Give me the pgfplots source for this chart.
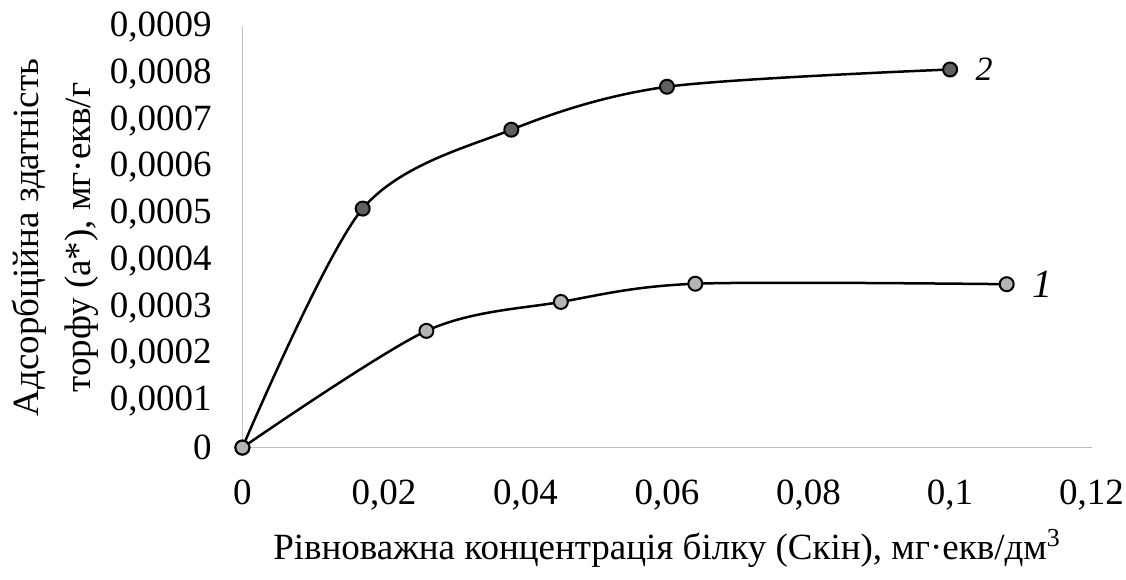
\documentclass[border=0pt]{standalone}
\usepackage{pgfplots}
\pgfplotsset{compat=1.18}
\usepackage{fontspec}
\setmainfont{Liberation Serif}

\definecolor{axisgray}{HTML}{BFBFBF}
\definecolor{lightmark}{HTML}{B4B4B4}
\definecolor{darkmark}{HTML}{606060}

\begin{document}
\fontsize{18.5}{26}\selectfont
\begin{tikzpicture}
\begin{axis}[
    scale only axis,
    width=424.5pt, height=210pt,
    xmin=0, xmax=0.12,
    ymin=0, ymax=0.0009,
    axis lines*=left,
    axis line style={axisgray, line width=0.8pt},
    major tick length=0pt,
    xtick={0,0.02,0.04,0.06,0.08,0.1,0.12},
    ytick={0,0.0001,0.0002,0.0003,0.0004,0.0005,0.0006,0.0007,0.0008,0.0009},
    scaled x ticks=false, scaled y ticks=false,
    /pgf/number format/assume math mode=true,
    /pgf/number format/use comma,
    /pgf/number format/fixed,
    /pgf/number format/precision=4,
    tick label style={font=\fontsize{18.5}{22}\selectfont},
    xticklabel style={yshift=-10pt, inner xsep=1pt},
    yticklabel style={xshift=-9pt},
    label style={font=\fontsize{18.5}{26}\selectfont},
    xlabel={Рівноважна концентрація білку (Скін), мг·екв/дм\textsuperscript{3}},
    xlabel style={yshift=3pt},
    ylabel={Адсорбційна здатність\\торфу (a*), мг·екв/г},
    ylabel style={align=center},
    ylabel shift=-7pt,
    clip=false,
    every axis plot/.append style={black, line width=1.25pt, smooth},
]
% series 2
\addplot[mark=*, mark size=3.5pt, mark options={fill=darkmark, draw=black, line width=1pt}]
    coordinates {
    (0, 0)
    (0.017, 0.000512)
    (0.038, 0.000681)
    (0.060, 0.000773)
    (0.100, 0.000810)
    } node[anchor=west, xshift=6pt, font=\fontsize{17}{20}\selectfont\itshape] {2};
% series 1
\addplot[mark=*, mark size=3.5pt, mark options={fill=lightmark, draw=black, line width=1pt}]
    coordinates {
    (0, 0)
    (0.026, 0.000250)
    (0.045, 0.000312)
    (0.064, 0.000351)
    (0.108, 0.000350)
    } node[anchor=west, xshift=6pt, font=\fontsize{20}{24}\selectfont\itshape] {1};
\end{axis}
\end{tikzpicture}
\end{document}
